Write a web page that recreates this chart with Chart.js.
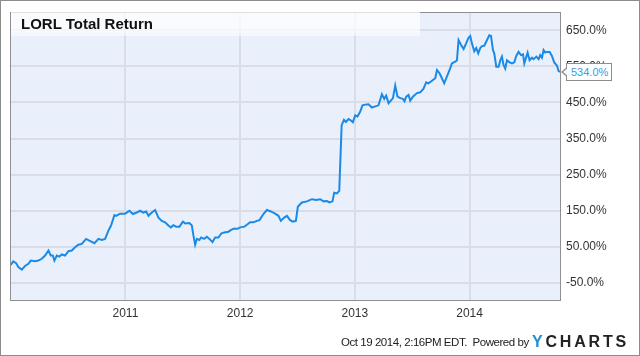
<!DOCTYPE html>
<html>
<head>
<meta charset="utf-8">
<script src="https://cdn.jsdelivr.net/npm/chart.js@4.4.1/dist/chart.umd.min.js"></script>
<style>
  html, body { margin: 0; padding: 0; background: #fff; }
  #wrap { position: relative; width: 640px; height: 356px; overflow: hidden; font-family: 'Liberation Sans', Arial, sans-serif; }
  #c { position: absolute; left: 0; top: 0; }
  #frame { position: absolute; left: 0; top: 0; width: 640px; height: 356px; box-sizing: border-box; border: 1px solid #8c8c8c; pointer-events: none; }
  #title { position: absolute; left: 11px; top: 11px; width: 409px; height: 25px;
           background: linear-gradient(rgba(255,255,255,0.72), rgba(255,255,255,0.72) 75%, rgba(255,255,255,0.45));
           font-weight: bold; font-size: 15px; color: #111; line-height: 15px; box-sizing: border-box; padding: 5px 0 0 10px; }
  #footer { position: absolute; left: 341px; top: 336px; font-size: 11.5px; letter-spacing: -0.45px; color: #222; line-height: 12px; white-space: pre; }
  #logo { position: absolute; left: 532px; top: 334px; font-size: 16px; font-weight: bold; letter-spacing: 2.8px; line-height: 16px; color: #222; white-space: pre; }
  #logo span { color: #1d8fd8; }
  #last { position: absolute; height: 18px; box-sizing: border-box; border: 1px solid #8c8c8c; background: #fff;
          color: #3b9be3; font-size: 11px; line-height: 16px; padding: 0 3px 0 4px; white-space: pre; }
  #last:before { content: ""; position: absolute; left: -6px; top: 3px; border-style: solid; border-width: 5px 6px 5px 0; border-color: transparent #8c8c8c transparent transparent; }
  #last:after { content: ""; position: absolute; left: -4px; top: 4px; border-style: solid; border-width: 4px 5px 4px 0; border-color: transparent #fff transparent transparent; }
</style>
</head>
<body>
<div id="wrap">
  <canvas id="c" width="640" height="356"></canvas>
  <div id="title">LORL Total Return</div>
  <div id="last"></div>
  <div id="footer">Oct 19 2014, 2:16PM EDT.  Powered by</div>
  <div id="logo"><span>Y</span>CHARTS</div>
  <div id="frame"></div>
</div>
<script>
const CHART_TITLE = 'LORL Total Return';
const DATES = [2010.001, 2010.023, 2010.047, 2010.067, 2010.097, 2010.125, 2010.154, 2010.175, 2010.213, 2010.241, 2010.271, 2010.300, 2010.329, 2010.349, 2010.367, 2010.381, 2010.402, 2010.424, 2010.445, 2010.474, 2010.503, 2010.533, 2010.561, 2010.590, 2010.620, 2010.657, 2010.686, 2010.730, 2010.765, 2010.794, 2010.823, 2010.852, 2010.875, 2010.904, 2010.919, 2010.954, 2010.997, 2011.035, 2011.065, 2011.099, 2011.128, 2011.157, 2011.181, 2011.201, 2011.230, 2011.259, 2011.288, 2011.317, 2011.346, 2011.375, 2011.396, 2011.419, 2011.442, 2011.471, 2011.501, 2011.521, 2011.558, 2011.579, 2011.593, 2011.608, 2011.623, 2011.645, 2011.660, 2011.686, 2011.710, 2011.733, 2011.759, 2011.782, 2011.811, 2011.835, 2011.861, 2011.898, 2011.922, 2011.942, 2011.977, 2012.000, 2012.038, 2012.059, 2012.087, 2012.116, 2012.146, 2012.169, 2012.203, 2012.233, 2012.268, 2012.305, 2012.334, 2012.355, 2012.384, 2012.408, 2012.436, 2012.460, 2012.486, 2012.503, 2012.538, 2012.582, 2012.626, 2012.663, 2012.698, 2012.727, 2012.756, 2012.779, 2012.805, 2012.820, 2012.844, 2012.864, 2012.885, 2012.905, 2012.922, 2012.945, 2012.966, 2012.983, 2013.003, 2013.023, 2013.047, 2013.067, 2013.090, 2013.119, 2013.149, 2013.178, 2013.206, 2013.236, 2013.256, 2013.273, 2013.294, 2013.314, 2013.332, 2013.352, 2013.372, 2013.396, 2013.419, 2013.433, 2013.448, 2013.468, 2013.483, 2013.506, 2013.541, 2013.570, 2013.599, 2013.622, 2013.642, 2013.672, 2013.701, 2013.716, 2013.738, 2013.759, 2013.779, 2013.803, 2013.826, 2013.846, 2013.875, 2013.890, 2013.904, 2013.925, 2013.948, 2013.969, 2013.991, 2014.006, 2014.021, 2014.041, 2014.058, 2014.076, 2014.093, 2014.108, 2014.128, 2014.152, 2014.172, 2014.187, 2014.204, 2014.215, 2014.233, 2014.253, 2014.268, 2014.282, 2014.296, 2014.311, 2014.326, 2014.349, 2014.370, 2014.390, 2014.407, 2014.427, 2014.448, 2014.466, 2014.477, 2014.495, 2014.506, 2014.523, 2014.544, 2014.558, 2014.582, 2014.602, 2014.616, 2014.631, 2014.645, 2014.660, 2014.675, 2014.698, 2014.718, 2014.738, 2014.762, 2014.776, 2014.797];
const TOTAL_RETURN = [0, 10, 5, -6, -13, -3, 3, 12, 10, 12, 17, 26, 40, 26, 26, 12, 26, 23, 29, 26, 38, 40, 49, 56, 58, 72, 67, 60, 72, 69, 72, 95, 109, 138, 136, 142, 142, 150, 141, 145, 150, 145, 148, 136, 145, 152, 131, 122, 118, 109, 104, 110, 106, 106, 120, 115, 116, 109, 81, 56, 72, 69, 76, 72, 78, 72, 63, 76, 76, 87, 90, 92, 97, 100, 100, 104, 106, 111, 118, 118, 122, 124, 141, 152, 148, 142, 136, 122, 131, 136, 124, 120, 122, 161, 173, 176, 182, 180, 182, 176, 177, 173, 176, 200, 198, 205, 387, 402, 396, 404, 400, 395, 414, 411, 425, 442, 444, 445, 436, 439, 442, 473, 460, 469, 448, 455, 462, 497, 466, 462, 460, 453, 466, 471, 455, 466, 476, 478, 488, 506, 503, 510, 517, 540, 531, 517, 503, 522, 540, 558, 563, 567, 623, 610, 598, 613, 629, 634, 613, 592, 601, 586, 601, 606, 607, 623, 636, 634, 595, 586, 549, 549, 567, 577, 554, 544, 567, 561, 558, 561, 579, 590, 581, 583, 558, 577, 588, 567, 574, 570, 577, 570, 581, 574, 595, 588, 590, 590, 579, 561, 552, 537, 534];
const X_TICKS = [2011, 2012, 2013, 2014];
const X_TICK_LABELS = ['2011', '2012', '2013', '2014'];
const Y_TICKS = [-50, 50, 150, 250, 350, 450, 550, 650];
const Y_TICK_LABELS = ['-50.0%', '50.00%', '150.0%', '250.0%', '350.0%', '450.0%', '550.0%', '650.0%'];
const LAST_LABEL = '534.0%';
const X_MIN = 2009.994, X_MAX = 2014.797, Y_MIN = -100, Y_MAX = 700;

document.getElementById('title').textContent = CHART_TITLE;
const n = Math.min(DATES.length, TOTAL_RETURN.length);
const points = [];
for (let i = 0; i < n; i++) points.push({ x: DATES[i], y: TOTAL_RETURN[i] });

const FONT = { family: "'Liberation Sans', Arial, sans-serif", size: 12 };

const framePlugin = {
  id: 'frame',
  beforeDraw(chart) {
    const { ctx, chartArea: a } = chart;
    ctx.save();
    ctx.fillStyle = '#eaf0fb';
    ctx.fillRect(a.left, a.top, a.right - a.left, a.bottom - a.top);
    ctx.restore();
  },
  afterDraw(chart) {
    const { ctx, chartArea: a } = chart;
    ctx.save();
    ctx.strokeStyle = '#8f8f8f';
    ctx.lineWidth = 1;
    ctx.strokeRect(Math.round(a.left) + 0.5, Math.round(a.top) + 0.5, Math.round(a.right - a.left) - 1, Math.round(a.bottom - a.top) - 1);
    ctx.restore();
    const last = TOTAL_RETURN[n - 1];
    const y = chart.scales.y.getPixelForValue(last);
    const el = document.getElementById('last');
    el.textContent = LAST_LABEL;
    el.style.left = (a.right + 5) + 'px';
    el.style.top = (y - 9) + 'px';
  }
};

new Chart(document.getElementById('c'), {
  type: 'line',
  data: { datasets: [{ data: points, borderColor: '#1b8ae6', borderWidth: 2, pointRadius: 0, tension: 0, fill: false }] },
  options: {
    responsive: false, animation: false, devicePixelRatio: 1,
    layout: { padding: { left: 10, top: 10, right: 0, bottom: 0 } },
    plugins: { legend: { display: false }, tooltip: { enabled: false }, title: { display: false } },
    scales: {
      x: {
        type: 'linear', min: X_MIN, max: X_MAX,
        afterBuildTicks(s) { s.ticks = X_TICKS.map(v => ({ value: v })); },
        afterFit(s) { s.height = 55; },
        ticks: { callback: (v) => X_TICK_LABELS[X_TICKS.indexOf(v)], color: '#333', font: FONT, padding: 5, maxRotation: 0, autoSkip: false },
        grid: { color: '#d9dee6', lineWidth: 2, drawTicks: false },
        border: { display: false }
      },
      y: {
        position: 'right', min: Y_MIN, max: Y_MAX,
        afterBuildTicks(s) { s.ticks = Y_TICKS.map(v => ({ value: v })); },
        afterFit(s) { s.width = 79; },
        ticks: { callback: (v) => Y_TICK_LABELS[Y_TICKS.indexOf(v)], color: '#333', font: FONT, padding: 5, autoSkip: false },
        grid: { color: '#d9dee6', lineWidth: 2, drawTicks: false },
        border: { display: false }
      }
    }
  },
  plugins: [framePlugin]
});
</script>
</body>
</html>
